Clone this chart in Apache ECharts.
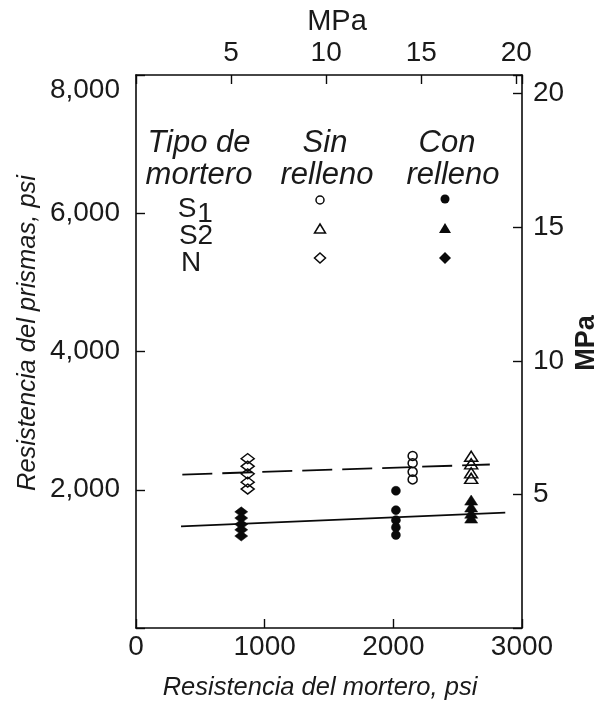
<!DOCTYPE html>
<html>
<head>
<meta charset="utf-8">
<script src="https://cdn.jsdelivr.net/npm/echarts@6/dist/echarts.min.js"></script>
<style>
html,body{margin:0;padding:0;background:#fff;}
#chart{width:600px;height:705px;}
</style>
</head>
<body>
<div id="chart"></div>
<script>
// ---- data (psi) ----
const xTicksPsi = [0, 1000, 2000, 3000];
const yTicksPsi = [0, 2000, 4000, 6000, 8000];
const topTicksMPa = [5, 10, 15, 20];
const rightTicksMPa = [5, 10, 15, 20];

// Sin relleno (hollow)
const s1Sin = [[2150, 2490], [2150, 2385], [2150, 2260], [2150, 2150]];
const s2Sin = [[2605, 2485], [2605, 2375], [2605, 2245], [2605, 2165]];
const nSin  = [[868, 2450], [868, 2340], [868, 2230], [868, 2110], [868, 2010]];
// Con relleno (filled)
const s1Con = [[2020, 1985], [2020, 1705], [2020, 1560], [2020, 1455], [2020, 1345]];
const s2Con = [[2605, 1850], [2605, 1750], [2605, 1660], [2605, 1590]];
const nCon  = [[818, 1680], [818, 1590], [818, 1500], [818, 1420], [818, 1330]];
// fitted lines
const fitSin = [[360, 2220], [2750, 2365]];
const fitCon = [[350, 1470], [2870, 1670]];

const FONT = "'Liberation Sans', Arial, Helvetica, sans-serif";
const INK = '#0a0a0a';
const TXT = '#1a1a1a';

const chart = echarts.init(document.getElementById('chart'), null, {renderer: 'canvas'});

function axisBase() {
  return {
    type: 'value',
    axisLine: {show: true, onZero: false, lineStyle: {color: INK, width: 1.6}},
    axisTick: {show: true, inside: true, length: 9, lineStyle: {color: INK, width: 1.4}},
    splitLine: {show: false},
    axisLabel: {fontFamily: FONT, fontSize: 28, color: TXT}
  };
}

const hollow = {color: 'rgba(255,255,255,0)', borderColor: INK, borderWidth: 1.5, opacity: 1};
const filled = {color: INK, borderColor: INK, borderWidth: 0.5, opacity: 1};

const option = {
  animation: false,
  backgroundColor: '#fff',
  grid: {left: 136, right: 78, top: 75, bottom: 77, containLabel: false},
  xAxis: [
    Object.assign(axisBase(), {
      position: 'bottom', min: 0, max: 3000, interval: 1000,
      axisLabel: {fontFamily: FONT, fontSize: 28, color: TXT, margin: 5,
        formatter: v => xTicksPsi.includes(v) ? String(v) : ''}
    }),
    Object.assign(axisBase(), {
      position: 'top', min: 0, max: 20.3, interval: 5,
      axisLabel: {fontFamily: FONT, fontSize: 28, color: TXT, margin: 8,
        formatter: v => topTicksMPa.includes(v) ? String(v) : ''}
    })
  ],
  yAxis: [
    Object.assign(axisBase(), {
      position: 'left', min: 0, max: 8000, interval: 2000,
      axisLabel: {fontFamily: FONT, fontSize: 28, color: TXT, margin: 16,
        formatter: v => {
          if (v === 0 || !yTicksPsi.includes(v)) return '';
          const s = v.toLocaleString('en-US');
          return v === 8000 ? '{low|' + s + '}' : s;
        },
        rich: {low: {fontFamily: FONT, fontSize: 28, color: TXT, padding: [30, 0, 0, 0]}}
      }
    }),
    Object.assign(axisBase(), {
      position: 'right', min: 0, max: 20.7, interval: 5,
      axisLabel: {fontFamily: FONT, fontSize: 28, color: TXT, margin: 11,
        formatter: v => rightTicksMPa.includes(v) ? String(v) : ''}
    })
  ],
  series: [
    {type: 'line', data: fitSin, symbol: 'none', silent: true, z: 1,
      lineStyle: {color: INK, width: 1.8, type: [30, 10], opacity: 1}},
    {type: 'line', data: fitCon, symbol: 'none', silent: true, z: 1,
      lineStyle: {color: INK, width: 1.8, type: 'solid', opacity: 1}},
    {type: 'scatter', data: s1Sin, symbol: 'circle', symbolSize: 9, itemStyle: hollow, z: 3},
    {type: 'scatter', data: s2Sin, symbol: 'triangle', symbolSize: [13, 10], itemStyle: hollow, z: 3},
    {type: 'scatter', data: nSin, symbol: 'diamond', symbolSize: [13, 10], itemStyle: hollow, z: 3},
    {type: 'scatter', data: s1Con, symbol: 'circle', symbolSize: 9, itemStyle: filled, z: 3},
    {type: 'scatter', data: s2Con, symbol: 'triangle', symbolSize: [13, 10], itemStyle: filled, z: 3},
    {type: 'scatter', data: nCon, symbol: 'diamond', symbolSize: [13, 10], itemStyle: filled, z: 3}
  ],
  graphic: [
    // axis titles
    {type: 'text', x: 337, y: 22, style: {text: 'MPa', font: '29px ' + FONT, fill: TXT, align: 'center', verticalAlign: 'middle'}},
    {type: 'text', x: 587, y: 343, rotation: Math.PI / 2, style: {text: 'MPa', font: 'bold 27px ' + FONT, fill: TXT, align: 'center', verticalAlign: 'middle'}},
    {type: 'text', x: 320, y: 688, style: {text: 'Resistencia del mortero, psi', font: 'italic 25.5px ' + FONT, fill: TXT, align: 'center', verticalAlign: 'middle'}},
    {type: 'text', x: 28, y: 333, rotation: Math.PI / 2, style: {text: 'Resistencia del prismas, psi', font: 'italic 25.5px ' + FONT, fill: TXT, align: 'center', verticalAlign: 'middle'}},
    // legend headers
    {type: 'text', x: 199, y: 143, style: {text: 'Tipo de', font: 'italic 31px ' + FONT, fill: TXT, align: 'center', verticalAlign: 'middle'}},
    {type: 'text', x: 199, y: 175, style: {text: 'mortero', font: 'italic 31px ' + FONT, fill: TXT, align: 'center', verticalAlign: 'middle'}},
    {type: 'text', x: 325, y: 143, style: {text: 'Sin', font: 'italic 31px ' + FONT, fill: TXT, align: 'center', verticalAlign: 'middle'}},
    {type: 'text', x: 327, y: 175, style: {text: 'relleno', font: 'italic 31px ' + FONT, fill: TXT, align: 'center', verticalAlign: 'middle'}},
    {type: 'text', x: 447, y: 143, style: {text: 'Con', font: 'italic 31px ' + FONT, fill: TXT, align: 'center', verticalAlign: 'middle'}},
    {type: 'text', x: 453, y: 175, style: {text: 'relleno', font: 'italic 31px ' + FONT, fill: TXT, align: 'center', verticalAlign: 'middle'}},
    // legend rows
    {type: 'text', x: 187, y: 209, style: {text: 'S', font: '28px ' + FONT, fill: TXT, align: 'center', verticalAlign: 'middle'}},
    {type: 'text', x: 205, y: 214, style: {text: '1', font: '28px ' + FONT, fill: TXT, align: 'center', verticalAlign: 'middle'}},
    {type: 'text', x: 196, y: 236, style: {text: 'S2', font: '28px ' + FONT, fill: TXT, align: 'center', verticalAlign: 'middle'}},
    {type: 'text', x: 191, y: 263, style: {text: 'N', font: '28px ' + FONT, fill: TXT, align: 'center', verticalAlign: 'middle'}},
    // legend symbols (hollow)
    {type: 'circle', shape: {cx: 320, cy: 200, r: 4}, style: {fill: 'none', stroke: INK, lineWidth: 1.5}},
    {type: 'polygon', shape: {points: [[320, 224], [325.5, 233], [314.5, 233]]}, style: {fill: 'none', stroke: INK, lineWidth: 1.5}},
    {type: 'polygon', shape: {points: [[320, 253], [325.5, 258], [320, 263], [314.5, 258]]}, style: {fill: 'none', stroke: INK, lineWidth: 1.5}},
    // legend symbols (filled)
    {type: 'circle', shape: {cx: 445, cy: 199, r: 4.5}, style: {fill: INK}},
    {type: 'polygon', shape: {points: [[445, 223], [451, 233], [439, 233]]}, style: {fill: INK}},
    {type: 'polygon', shape: {points: [[445, 252], [451, 258], [445, 264], [439, 258]]}, style: {fill: INK}}
  ]
};
chart.setOption(option);
</script>
</body>
</html>
